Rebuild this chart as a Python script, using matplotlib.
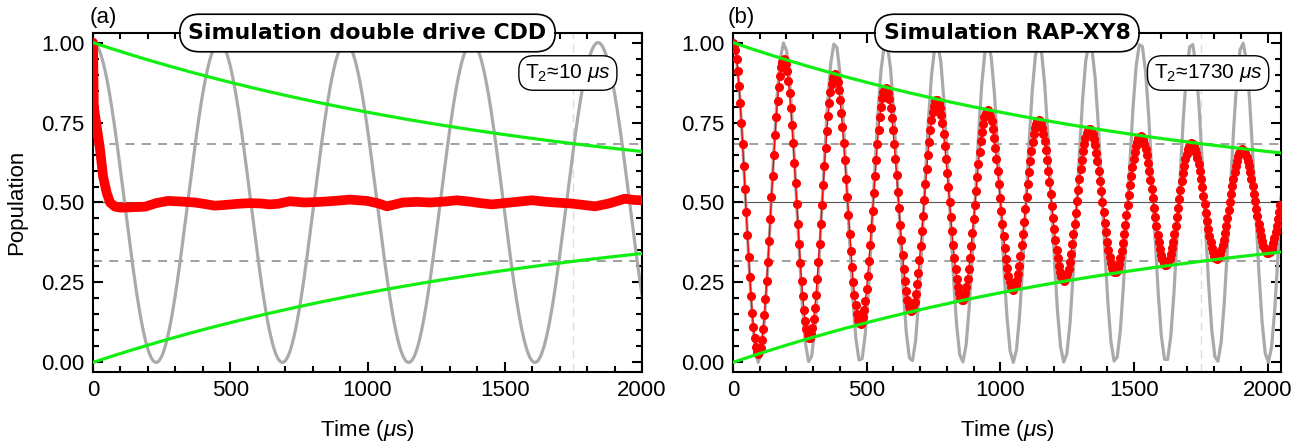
import numpy as np
import matplotlib.pyplot as plt
from matplotlib.ticker import MultipleLocator

plt.rcParams['font.family'] = ['Liberation Sans', 'DejaVu Sans']
plt.rcParams['mathtext.fontset'] = 'custom'
plt.rcParams['mathtext.rm'] = 'Liberation Sans'
plt.rcParams['mathtext.it'] = 'Liberation Sans:italic'

# values
rabi_period_a = 460.0      # us, gray reference oscillation, panel (a)
rabi_period_b = 190.6      # us, gray reference oscillation, panel (b)
t_env = 1750.0             # us, 1/e time of the green envelope
t2_b = 1730.0              # us, decay of simulated RAP-XY8 signal
vline_t = 1750.0

# simulated double drive CDD (panel a), read point by point
time_a = [0, 3, 8, 13, 25, 37, 50, 62, 80, 100, 140, 190, 230, 273, 320, 371,
          410, 444, 490, 528, 570, 612, 644, 674, 717, 770, 827, 880, 936, 998,
          1040, 1071, 1100, 1129, 1180, 1228, 1280, 1326, 1370, 1403, 1453,
          1520, 1599, 1640, 1683, 1740, 1790, 1829, 1880, 1938, 1970, 2000]
pop_a = [1.00, 0.80, 0.77, 0.74, 0.67, 0.58, 0.53, 0.50, 0.487, 0.484, 0.485,
         0.487, 0.498, 0.505, 0.503, 0.500, 0.495, 0.490, 0.493, 0.496, 0.498,
         0.497, 0.494, 0.496, 0.504, 0.500, 0.502, 0.505, 0.509, 0.505, 0.497,
         0.488, 0.494, 0.500, 0.502, 0.500, 0.503, 0.507, 0.503, 0.499, 0.494,
         0.500, 0.507, 0.503, 0.500, 0.497, 0.492, 0.488, 0.497, 0.512, 0.508,
         0.507]

# simulated RAP-XY8 sampling (panel b)
dt_b = 4.5
t_max_b = 2050.0


def envelope(t):
    return 0.5 * np.exp(-t / t_env)


fig = plt.figure(figsize=(13.08, 4.48), dpi=100)
ax_a = fig.add_axes([93 / 1308, 76 / 448, 549 / 1308, 339 / 448])
ax_b = fig.add_axes([733 / 1308, 76 / 448, 548 / 1308, 339 / 448])

gray = '#aaaaaa'
green = '#11ee11'
fs = 16

for ax, period, xmax in [(ax_a, rabi_period_a, 2000), (ax_b, rabi_period_b, t_max_b)]:
    t = np.linspace(0, xmax, 2000 if ax is ax_a else 175)
    ax.plot(t, 0.5 + 0.5 * np.cos(2 * np.pi * t / period), color=gray, lw=2.3, zorder=2)
    ax.axhline(0.5, color='#555555', lw=0.8, zorder=1)
    ax.axhline(0.5 + 0.5 / np.e, color='#999999', lw=1.3, ls=(0, (5, 4)), zorder=1)
    ax.axhline(0.5 - 0.5 / np.e, color='#999999', lw=1.3, ls=(0, (5, 4)), zorder=1)
    ax.axvline(vline_t, color='#dddddd', lw=1.0, ls=(0, (6, 4)), zorder=1)
    te = np.linspace(0, xmax, 300)
    ax.plot(te, 0.5 + envelope(te), color=green, lw=2.3, zorder=4)
    ax.plot(te, 0.5 - envelope(te), color=green, lw=2.3, zorder=4)

    ax.set_xlim(0, xmax)
    ax.set_ylim(-0.03, 1.03)
    ax.xaxis.set_major_locator(MultipleLocator(500))
    ax.xaxis.set_minor_locator(MultipleLocator(100))
    ax.yaxis.set_major_locator(MultipleLocator(0.25))
    ax.yaxis.set_minor_locator(MultipleLocator(0.05))
    ax.yaxis.set_major_formatter(lambda v, p: f'{v:.2f}')
    ax.tick_params(which='both', direction='in', top=True, right=True,
                   labelsize=fs, width=1.5, color='black', pad=6)
    ax.tick_params(which='major', length=7)
    ax.tick_params(which='minor', length=4)
    for s in ax.spines.values():
        s.set_linewidth(1.5)
    ax.set_xlabel(r'Time ($\mu$s)', fontsize=fs, labelpad=12)

# panel (a) data
ax_a.plot(time_a, pop_a, color='red', lw=7, solid_capstyle='round', zorder=3)

# panel (b) data
tb = np.arange(0, t_max_b, dt_b)
pb = 0.5 + 0.5 * np.exp(-tb / t2_b) * np.cos(2 * np.pi * tb / rabi_period_b)
ax_b.plot(tb, pb, color='red', lw=1, marker='o', ms=5.5, zorder=3)

ax_a.set_ylabel('Population', fontsize=fs, labelpad=10)

box = dict(boxstyle='round,pad=0.4,rounding_size=0.9', fc='white', ec='black', lw=1.2)
ax_a.text(0.5, 1.0, 'Simulation double drive CDD', transform=ax_a.transAxes,
          ha='center', va='center', fontsize=15.8, fontweight='bold',
          family='DejaVu Sans', bbox=box, zorder=10)
ax_b.text(0.5, 1.0, 'Simulation RAP-XY8', transform=ax_b.transAxes,
          ha='center', va='center', fontsize=15.8, fontweight='bold',
          family='DejaVu Sans', bbox=box, zorder=10)

tbox = dict(boxstyle='round,pad=0.3,rounding_size=0.7', fc='white', ec='black', lw=1.0)
ax_a.text(0.865, 0.882, r'T$_2$≈10 $\mu s$', transform=ax_a.transAxes,
          ha='center', va='center', fontsize=15, bbox=tbox, zorder=10)
ax_b.text(0.867, 0.882, r'T$_2$≈1730 $\mu s$', transform=ax_b.transAxes,
          ha='center', va='center', fontsize=15, bbox=tbox, zorder=10)

fig.text(90 / 1308, 1 - 17 / 448, '(a)', fontsize=fs, va='center', ha='left')
fig.text(728 / 1308, 1 - 17 / 448, '(b)', fontsize=fs, va='center', ha='left')

fig.savefig('out.png', dpi=100)
